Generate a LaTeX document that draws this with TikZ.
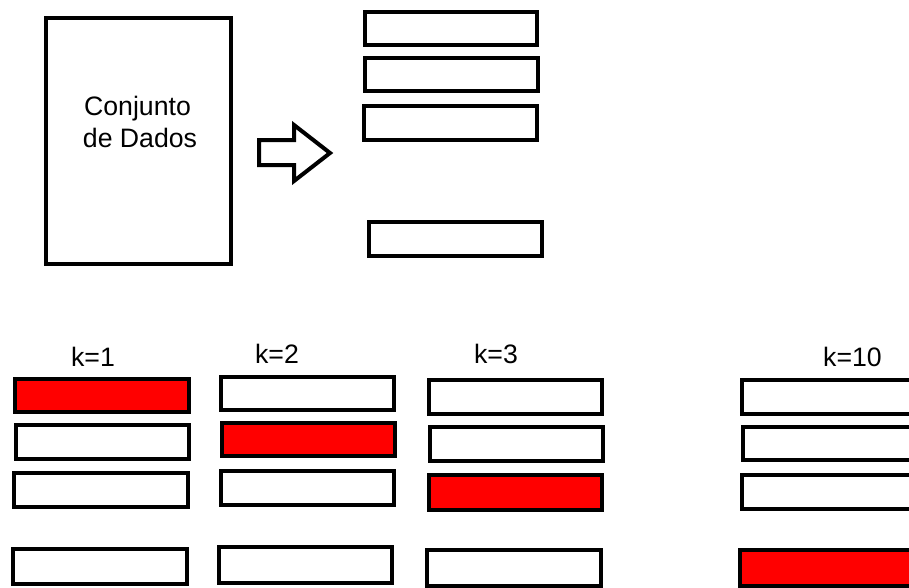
\documentclass[tikz,border=0pt]{standalone}
\usepackage{fontspec}
\setmainfont{Liberation Sans}
\begin{document}
\begin{tikzpicture}[x=0.75pt,y=-0.75pt,
  outline/.style={draw=black,line width=3pt,line join=miter},
  bar/.style={outline,fill=white},
  hit/.style={outline,fill=red},
  lbl/.style={inner sep=0pt,anchor=base,font=\fontsize{20}{24}\selectfont}]
\useasboundingbox (0,0) rectangle (909,587);
\clip (0,0) rectangle (909,587);

% data set
\draw[outline] (46,18) rectangle (231,264);
\node[lbl] (conj) at (137.5,115) {Conjunto};
\node[lbl] (dados) at (140,147) {de Dados};

% block arrow
\draw[outline] (259,140) -- (294,140) -- (294,125) -- (330,153)
  -- (294,181) -- (294,165) -- (259,165) -- cycle;

% partitions
\draw[bar] (365,12) rectangle (537,45);
\draw[bar] (365,58) rectangle (538,91);
\draw[bar] (364,106) rectangle (537,140);
\draw[bar] (369,222) rectangle (542,256);

% fold k=1
\node[lbl] (k1) at (93,366) {k=1};
\draw[hit] (15,379) rectangle (189,412);
\draw[bar] (16,425) rectangle (189,459);
\draw[bar] (14,473) rectangle (188,507);
\draw[bar] (13,549) rectangle (187,584);

% fold k=2
\node[lbl] (k2) at (277,363) {k=2};
\draw[bar] (221,377) rectangle (394,410);
\draw[hit] (222,423) rectangle (395,456);
\draw[bar] (221,471) rectangle (394,505);
\draw[bar] (219,547) rectangle (392,583);

% fold k=3
\node[lbl] (k3) at (496,363) {k=3};
\draw[bar] (429,380) rectangle (602,414);
\draw[bar] (430,427) rectangle (603,461);
\draw[hit] (429,475) rectangle (602,510);
\draw[bar] (427,550) rectangle (601,586);

% fold k=10
\node[lbl] (k10) at (852.5,366) {k=10};
\draw[bar] (742,380) rectangle (925,414);
\draw[bar] (743,427) rectangle (925,460);
\draw[bar] (742,475) rectangle (925,509);
\draw[hit] (740,550) rectangle (925,586);
\end{tikzpicture}
\end{document}
